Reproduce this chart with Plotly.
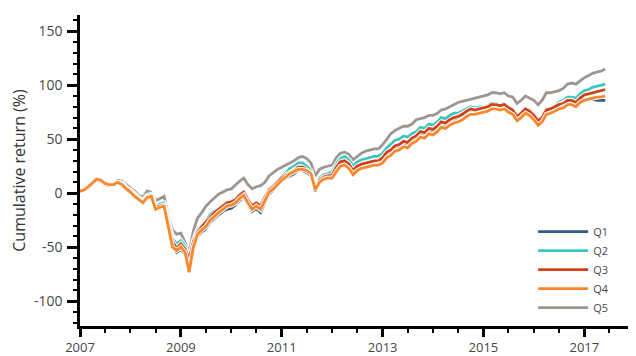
import pandas as pd
import plotly.graph_objects as go

# Monthly observations, Jan 2007 .. Jun 2017
dates = pd.date_range("2007-01-01", periods=126, freq="MS")

q1 = [2, 3, 5, 9, 12, 11, 8, 7, 8, 10, 9, 5,
      2, -2, -6, -9, -4, -3, -15, -13, -12, -28, -49, -55,
      -52, -57, -73, -52, -40, -36, -33, -27, -23, -20, -17, -15,
      -14, -11, -7, -4, -10, -17, -14, -18, -9, -1, 3, 7,
      11, 14, 16, 18, 21, 21, 19, 16, 2, 10, 13, 14,
      15, 22, 27, 28, 25, 19, 23, 25, 26, 27, 28, 28,
      31, 36, 38, 42, 43, 46, 45, 49, 51, 55, 54, 58,
      57, 60, 64, 63, 66, 68, 70, 72, 75, 77, 76, 77,
      78, 79, 81, 81, 80, 80, 77, 75, 69, 72, 76, 74,
      70, 65, 68, 74, 75, 77, 79, 80, 83, 83, 81, 84,
      86, 87, 87, 86, 86, 86]
q2 = [2, 3, 5, 9, 12, 11, 8, 7, 8, 10, 9, 5,
      3, -1, -4, -7, -2, -1, -12, -10, -9, -23, -42, -47,
      -44, -49, -64, -44, -34, -30, -26, -20, -17, -14, -11, -8,
      -7, -5, -1, 2, -5, -11, -8, -11, -3, 4, 7, 11,
      16, 20, 23, 25, 28, 28, 25, 21, 6, 14, 17, 18,
      20, 27, 32, 34, 31, 25, 29, 31, 32, 33, 34, 34,
      37, 42, 45, 49, 50, 53, 52, 55, 57, 61, 60, 64,
      63, 66, 70, 69, 72, 74, 74, 76, 78, 80, 79, 80,
      80, 81, 83, 83, 82, 83, 80, 78, 72, 75, 79, 77,
      73, 68, 71, 78, 79, 81, 84, 86, 89, 89, 88, 92,
      95, 96, 98, 99, 100, 101]
q3 = [2, 3, 5, 9, 12, 11, 8, 7, 8, 10, 9, 5,
      2, -2, -5, -8, -3, -2, -13, -12, -11, -26, -45, -51,
      -47, -52, -61, -45, -36, -31, -27, -22, -18, -15, -12, -9,
      -8, -6, -2, 1, -6, -12, -9, -12, -4, 3, 6, 10,
      14, 17, 19, 21, 24, 24, 22, 19, 4, 12, 15, 16,
      17, 24, 29, 30, 27, 21, 25, 27, 28, 29, 30, 30,
      33, 38, 40, 44, 45, 48, 47, 51, 53, 57, 56, 60,
      59, 62, 66, 65, 68, 70, 71, 73, 76, 78, 77, 78,
      79, 80, 82, 82, 81, 82, 79, 77, 71, 74, 78, 76,
      72, 67, 70, 77, 78, 80, 82, 83, 86, 86, 84, 88,
      91, 92, 93, 94, 95, 96]
q4 = [2, 3, 6, 10, 13, 12, 9, 8, 8, 10, 8, 4,
      1, -3, -6, -9, -4, -3, -15, -13, -12, -30, -50, -53,
      -50, -55, -73, -50, -38, -34, -31, -25, -21, -18, -15, -12,
      -11, -9, -5, -2, -9, -15, -12, -15, -7, 1, 4, 8,
      12, 15, 18, 20, 22, 22, 21, 18, 3, 10, 13, 14,
      14, 20, 25, 26, 23, 17, 21, 23, 24, 25, 26, 26,
      28, 33, 35, 39, 40, 43, 42, 46, 48, 52, 51, 55,
      54, 57, 61, 60, 63, 65, 66, 68, 71, 73, 73, 74,
      75, 76, 78, 78, 77, 78, 75, 73, 67, 70, 74, 72,
      68, 63, 66, 73, 74, 76, 78, 79, 82, 82, 80, 84,
      86, 87, 88, 89, 89, 90]
q5 = [2, 3, 5, 9, 12, 11, 9, 8, 9, 12, 11, 8,
      5, 2, -2, -4, 2, 1, -7, -5, -3, -20, -34, -38,
      -37, -46, -55, -35, -23, -18, -12, -8, -4, -1, 1, 3,
      4, 8, 11, 14, 8, 4, 6, 7, 10, 16, 19, 22,
      24, 26, 28, 30, 33, 34, 32, 28, 16, 22, 24, 25,
      26, 33, 37, 38, 36, 31, 34, 37, 39, 40, 41, 41,
      45, 50, 55, 58, 60, 62, 62, 64, 68, 69, 70, 72,
      72, 74, 77, 78, 80, 82, 84, 85, 86, 87, 88, 89,
      90, 91, 93, 93, 92, 93, 90, 89, 83, 86, 90, 88,
      86, 82, 86, 93, 93, 94, 95, 97, 101, 102, 101, 104,
      107, 109, 111, 112, 113, 115]

series_names = ["Q1", "Q2", "Q3", "Q4", "Q5"]
series_values = [q1, q2, q3, q4, q5]
series_colors = ["#2f5d85", "#3cc6c0", "#d2401a", "#f7892c", "#9c9793"]

y_tick_vals = [-100, -50, 0, 50, 100, 150]
y_tick_text = ["-100", "-50", "0", "50", "100", "150"]

fig = go.Figure()
draw_order = [4, 0, 1, 2, 3]
for i in draw_order:
    fig.add_trace(go.Scatter(
        x=dates, y=series_values[i], mode="lines",
        line=dict(color="rgba(255,255,255,0.9)", width=5),
        showlegend=False, hoverinfo="skip"))
    fig.add_trace(go.Scatter(
        x=dates, y=series_values[i], mode="lines", name=series_names[i],
        line=dict(color=series_colors[i], width=2.8),
        legendrank=i + 1))

txt = "#474747"
fig.update_layout(
    width=628, height=348,
    margin=dict(l=72, r=0, t=7, b=16),
    paper_bgcolor="white", plot_bgcolor="white",
    font=dict(family="Open Sans, Liberation Sans, sans-serif", size=13, color=txt),
    showlegend=True,
    legend=dict(x=0.815, y=0.35, xanchor="left", yanchor="top",
                bgcolor="rgba(0,0,0,0)", font=dict(size=11, color=txt),
                itemwidth=50, tracegroupgap=0),
    xaxis=dict(
        type="date", range=["2007-01-01", "2018-01-10"],
        tick0="2007-01-01", dtick="M24", tickformat="%Y",
        showgrid=False, zeroline=False,
        showline=True, linecolor="black", linewidth=2.5,
        ticks="outside", ticklen=8, tickwidth=2.5, tickcolor="black",
        tickfont=dict(size=13, color=txt),
        minor=dict(dtick="M6", tick0="2007-01-01", ticks="outside", ticklen=4,
                   tickwidth=2, tickcolor="black", showgrid=False),
    ),
    yaxis=dict(
        range=[-123, 165],
        tickvals=y_tick_vals, ticktext=y_tick_text,
        showgrid=False, zeroline=False,
        showline=True, linecolor="black", linewidth=2.5,
        ticks="outside", ticklen=10, tickwidth=2.5, tickcolor="black",
        ticklabelstandoff=2,
        tickfont=dict(size=14, color=txt),
        title=dict(text="Cumulative return (%)", font=dict(size=16, color="#333333"), standoff=6),
        minor=dict(dtick=10, tick0=0, ticks="outside", ticklen=4, tickwidth=2,
                   tickcolor="black", showgrid=False),
    ),
)

fig.write_html("out.html")
